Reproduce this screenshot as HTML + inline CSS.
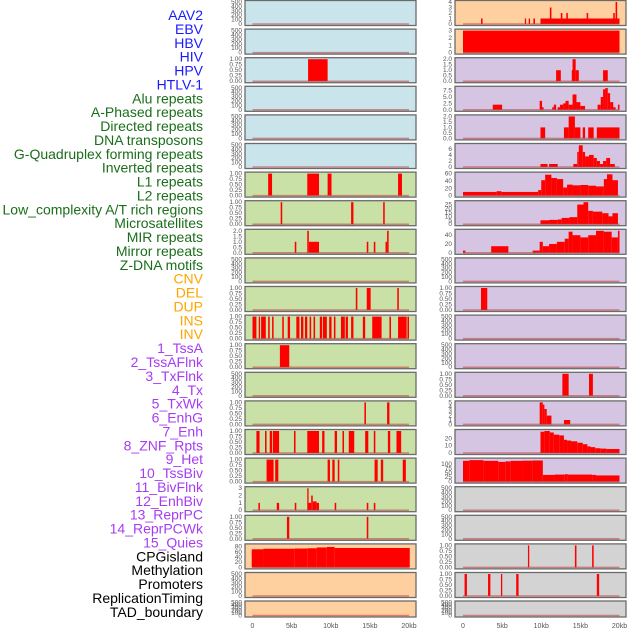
<!DOCTYPE html>
<html><head><meta charset="utf-8"><style>
body{margin:0;background:#fff;width:630px;height:630px;overflow:hidden}
svg{display:block;font-family:"Liberation Sans",sans-serif}
</style></head><body>
<svg id="chart" width="630" height="630" viewBox="0 0 630 630" xmlns="http://www.w3.org/2000/svg">
<g id="labels"></g>
<g id="panels"></g>
<g id="xaxes"></g>
</svg>
<script>
const featureNames = ["AAV2","EBV","HBV","HIV","HPV","HTLV-1","Alu repeats","A-Phased repeats","Directed repeats","DNA transposons","G-Quadruplex forming repeats","Inverted repeats","L1 repeats","L2 repeats","Low_complexity A/T rich regions","Microsatellites","MIR repeats","Mirror repeats","Z-DNA motifs","CNV","DEL","DUP","INS","INV","1_TssA","2_TssAFlnk","3_TxFlnk","4_Tx","5_TxWk","6_EnhG","7_Enh","8_ZNF_Rpts","9_Het","10_TssBiv","11_BivFlnk","12_EnhBiv","13_ReprPC","14_ReprPCWk","15_Quies","CPGisland","Methylation","Promoters","ReplicationTiming","TAD_boundary"];
const featureGroups = [0,0,0,0,0,0,1,1,1,1,1,1,1,1,1,1,1,1,1,2,2,2,2,2,3,3,3,3,3,3,3,3,3,3,3,3,3,3,3,4,4,4,4,4];
const groupColors = ["#1a1aff","#1a6e1a","#ffa500","#a63cf2","#000000"];
const xTicks = [0,5,10,15,20];
const xTickLabels = ["0","5kb","10kb","15kb","20kb"];

const T500=["0","100","200","300","400","500"], T1=["0.00","0.25","0.50","0.75","1.00"], T2=["0.0","0.5","1.0","1.5","2.0"];
const L0=[],L1=[],L3=[],L4=[],L5=[],L9=[],L21=[],L20=[];
const L2=[[7.1,9.6,1]];
const L6=[[2.0,2.5,1],[7.0,8.5,1],[9.6,10.1,1],[18.6,19.1,1]];
const L7=[[3.6,3.8,1],[12.6,12.9,1],[16.7,16.9,1]];
const L8=[[5.4,5.6,1],[7.0,7.2,2],[7.2,8.5,1],[14.6,14.8,1],[15.5,15.7,1],[17.0,17.2,1],[17.2,17.4,2]];
const L10=[[13.2,13.4,1],[14.6,15.1,1],[18.5,18.7,1]];
const L11=[[0,0.5,1],[0.8,0.96,1],[1.1,1.7,1],[2.0,2.2,1],[2.5,2.7,1],[3.8,4.0,1],[4.5,4.8,1],[5.6,6.0,1],[6.2,6.5,1],[6.7,7.0,1],[7.3,7.5,1],[7.8,8.0,1],[8.6,8.9,1],[9.0,9.5,1],[9.8,10.1,1],[10.4,10.6,1],[11.3,11.8,1],[11.9,12.2,1],[12.6,12.9,1],[14.1,14.4,1],[15.3,16.5,1],[17.5,17.7,1],[18.6,19.7,1],[19.8,20.0,1]];
const L12=[[3.5,4.7,1]];
const L13=[];
const L14=[[14.3,14.5,1],[17.2,17.5,1]];
const L15=[[0.5,0.9,1],[1.6,1.8,1],[2.2,2.5,1],[2.6,3.4,1],[5.3,5.5,1],[7.0,8.5,1],[8.9,9.2,1],[10.5,10.8,1],[11.5,11.7,1],[12.3,13.0,1],[14.4,14.8,1],[15.5,15.7,1],[17.3,17.6,1],[18.4,19.0,1]];
const L16=[[1.8,2.7,1],[2.9,3.3,1],[9.6,9.9,1],[10.2,10.5,1],[10.9,11.1,1],[15.6,16.0,1],[16.4,16.7,1],[19.2,19.6,1]];
const L17=[[0.75,0.95,1],[3.1,3.4,1],[5.4,5.6,1],[7.0,7.15,3],[7.15,7.5,1],[7.5,7.7,2],[7.7,8.2,1.2],[8.2,8.5,1],[10.5,10.7,1],[14.6,14.8,1],[15.5,15.7,1]];
const L18=[[4.4,4.7,1],[14.6,14.8,1]];
const L19=[[-0.1,1.4,70],[1.4,5.4,72],[5.4,7.0,73],[7.0,8.2,74],[8.2,9.5,77],[9.5,10.5,79],[10.5,20.1,75]];
const R0=[[2.3,2.5,1],[7.9,8.0,1],[8.4,8.5,1],[9.0,9.2,1],[9.9,20,1],[11.1,11.3,3],[12.5,12.7,2],[13.2,13.4,2],[15.8,16.0,2],[19.2,19.4,2],[19.5,19.7,4]];
const R1=[[0,20,3]];
const R2=[[11.9,12.5,1],[13.9,14.0,1],[14.0,14.4,2],[14.4,14.8,1],[17.9,18.5,1]];
const R3=[[3.8,5.0,2],[9.8,10.1,3.5],[10.1,10.3,1],[11.4,11.6,1],[11.6,11.9,2],[12.1,12.4,1],[12.4,12.8,2],[12.8,13.1,2.5],[13.1,13.5,3.5],[13.5,14.0,2],[14.0,14.5,6],[14.5,15.0,3],[15.0,15.6,1.5],[17.2,17.6,2],[17.6,17.9,5],[17.9,18.2,8],[18.2,18.5,8.5],[18.5,18.8,6.5],[18.8,19.2,3],[19.2,19.5,1],[19.8,20,2]];
const R4=[[9.9,10.5,1],[12.9,13.5,1],[13.5,14.3,2],[14.3,15.0,1],[15.3,15.6,1],[16.0,16.7,1],[17.1,20,1]];
const R5=[[9.9,10.8,1],[11.0,12.1,1],[14.1,14.6,1],[14.6,14.8,5],[14.8,15.3,7.2],[15.3,15.6,5],[15.6,16.1,3.5],[16.1,16.7,4],[16.7,17.1,3],[17.1,17.5,2],[17.5,17.9,1],[17.9,18.3,2],[18.3,18.8,3],[18.8,19.4,1]];
const R6=[[0,4.3,10],[4.3,4.9,12],[4.9,9.6,10],[9.6,10,15],[10,10.5,42],[10.5,11.3,57],[11.3,12,48],[12,12.8,45],[12.8,13.3,22],[13.3,14,30],[14,15,28],[15,16,29],[16,17,27],[17,18,25],[18,18.4,45],[18.4,19.1,58],[19.1,19.8,42]];
const R7=[[9.9,11,5],[11,12.1,5.5],[12.1,12.6,6],[12.6,13.6,8],[13.6,14.6,9],[14.6,15.4,25],[15.4,16,28],[16,16.6,17],[16.6,17.8,16],[17.8,18.6,14],[18.6,19.1,10],[19.1,19.8,14]];
const R8=[[0,0.3,5],[3.6,5.8,15],[8.9,9.8,5],[9.8,10.2,25],[10.2,11,15],[11,12,20],[12,13,25],[13,13.5,32],[13.5,14,48],[14,15,40],[15,16,35],[16,17,40],[17,18,50],[18,19,48],[19,19.8,35],[19.8,20,50]];
const R9=[];
const R10=[[2.3,3.1,1]];
const R11=[],R12=[],R17=[],R18=[],R21=[];
const R13=[[12.7,13.5,1],[16.1,16.6,1]];
const R14=[[9.8,10.2,5],[10.2,10.4,4.5],[10.4,10.7,3.5],[10.7,11.3,2],[12.9,13.7,1]];
const R15=[[9.9,10.4,29],[10.4,11.1,30],[11.1,11.6,28],[11.6,12.3,25],[12.3,12.9,24],[12.9,13.3,18],[13.3,13.8,17],[13.8,14.6,16],[14.6,15.3,14],[15.3,15.9,12],[15.9,16.3,9],[16.3,16.9,8],[16.9,17.6,6.5],[17.6,18.3,6],[18.3,20,5.5]];
const R16=[[0,0.8,118],[0.8,2.6,122],[2.6,4.5,118],[4.5,5.4,112],[5.4,6.1,115],[6.1,7.6,118],[7.6,8.9,119],[8.9,10.2,120],[10.2,11.7,38],[11.7,13.0,40],[13.0,13.4,42],[13.4,16.5,40],[16.5,17.0,38],[17.0,20,35]];
const R19=[[8.3,8.45,1],[14.3,14.5,1],[16.5,16.7,1]];
const R20=[[0.2,0.5,1],[3.2,3.5,1],[4.85,5.0,1],[6.8,7.1,1],[17.1,17.4,1]];

const leftSeries=[L0,L1,L2,L3,L4,L5,L6,L7,L8,L9,L10,L11,L12,L13,L14,L15,L16,L17,L18,L19,L20,L21];
const rightSeries=[R0,R1,R2,R3,R4,R5,R6,R7,R8,R9,R10,R11,R12,R13,R14,R15,R16,R17,R18,R19,R20,R21];
const leftTicks=[T500,T500,T1,T500,T500,T500,T1,T1,T2,T500,T1,T1,T1,T500,T1,T1,T1,["0","1","2","3"],T1,["0","20","40","60","80"],T500,T500];
const rightTicks=[["0","1","2","3","4"],["0","1","2","3"],T2,["0.0","2.5","5.0","7.5"],T2,["0","2","4","6"],["0","20","40","60"],["0","5","10","15","20","25"],["0","20","40"],T500,T1,T500,T500,T1,["0","1","2","3","4","5"],["0","10","20"],["0","25","50","75","100"],T500,T500,T1,T1,T500];
const leftYmax=[500,500,1,500,500,500,1,1,2,500,1,1,1,500,1,1,1,3,1,85,500,500];
const rightYmax=[4,3,2,8.6,2,7.3,60,28,50,500,1,500,500,1,5,30,125,500,500,1,1,500];
const leftBg=["b","b","b","b","b","b","g","g","g","g","g","g","g","g","g","g","g","g","g","o","o","o"];
const rightBg=["o","o","p","p","p","p","p","p","p","p","p","p","p","p","p","p","p","x","x","x","x","x"];

const bgColors={b:"#c9e4eb",g:"#c9e1a6",o:"#fecf9f",p:"#d5c5e2",x:"#d3d3d3"};
const NS="http://www.w3.org/2000/svg";
function mk(tag,attrs,parent){const e=document.createElementNS(NS,tag);for(const k in attrs)e.setAttribute(k,attrs[k]);parent.appendChild(e);return e;}

const labelsG=document.getElementById('labels');
featureNames.forEach((n,k)=>{
  const t=mk('text',{x:203,y:(20+13.88*k).toFixed(1),'text-anchor':'end','font-size':'14',fill:groupColors[featureGroups[k]]},labelsG);
  
  
  t.textContent=n;
});

const panelsG=document.getElementById('panels');
const cols=[{x0:245,x1:416,z:252.5,w:156.5},{x0:455,x1:626,z:463,w:156.5}];
function drawPanel(ci,row,series,ticks,ymax,bg){
  const c=cols[ci];
  const top= row<21 ? 0.5+28.6*row : 601;
  const h= row<21 ? 25 : 16;
  const xs=v=>c.z+v/20*c.w;
  const ys=v=>top+h-1.5-v/ymax*(h-3);
  const g=mk('g',{},panelsG);
  
  
  const r=mk('rect',{x:c.x0,y:top,width:c.x1-c.x0,height:h,fill:bgColors[bg],stroke:'#6b6b6b','stroke-width':1.3},g);
  
  
  series.forEach(s=>{
    const x=xs(s[0]),w=Math.max(xs(s[1])-x,1.3),y=ys(Math.min(s[2],ymax));
    const b=mk('rect',{x:x.toFixed(2),y:y.toFixed(2),width:w.toFixed(2),height:(ys(0)-y).toFixed(2),fill:'#ff0000'},g);
    
    
  });
  const bl=mk('line',{x1:xs(0),x2:xs(20),y1:ys(0),y2:ys(0),stroke:'rgba(190,60,60,0.55)','stroke-width':1.5},g);
  
  
  ticks.forEach(tl=>{
    const v=parseFloat(tl);
    const t=mk('text',{x:c.x0-3,y:(ys(v)+2).toFixed(1),'text-anchor':'end','font-size':'6.5',fill:'#555'},g);
    
    
    t.textContent=tl;
  });
}
for(let i=0;i<22;i++){
  drawPanel(0,i,leftSeries[i],leftTicks[i],leftYmax[i],leftBg[i]);
  drawPanel(1,i,rightSeries[i],rightTicks[i],rightYmax[i],rightBg[i]);
}
const xaG=document.getElementById('xaxes');
cols.forEach((c,ci)=>{
  xTicks.forEach((v,j)=>{
    const t=mk('text',{x:c.z+v/20*c.w,y:628,'text-anchor':'middle','font-size':'7',fill:'#555'},xaG);
    
    
    t.textContent=xTickLabels[j];
  });
});
</script>
</body></html>
